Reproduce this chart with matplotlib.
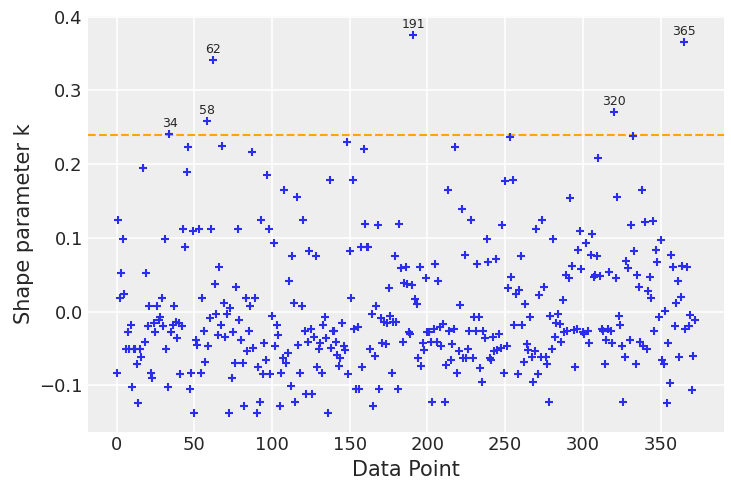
import numpy as np
import matplotlib
matplotlib.use('Agg')
import matplotlib.pyplot as plt

# Pareto shape parameter k per data point
khat_000 = [-0.083, 0.124, 0.018, 0.052, 0.099, 0.024, -0.050, -0.027, -0.050, -0.018,
            -0.102, -0.050, -0.050, -0.071, -0.124, -0.050, -0.061, 0.195, -0.041, 0.052,
            -0.020, 0.008, -0.083, -0.090, -0.016, -0.027, 0.008, -0.011, -0.007, 0.018,
            -0.020, 0.099, -0.051, -0.102, 0.241, -0.027, -0.018, 0.008, -0.014, -0.036,
            -0.016, -0.084, -0.020, 0.112, 0.087, 0.189, 0.223, -0.105, -0.083, 0.110]
khat_050 = [-0.137, -0.038, -0.045, 0.112, -0.083, 0.018, -0.026, -0.068, 0.258, -0.047,
            -0.008, 0.112, 0.341, 0.038, -0.003, -0.032, 0.061, -0.018, 0.224, 0.012,
            -0.035, -0.003, -0.137, 0.005, -0.090, -0.027, -0.070, 0.034, 0.112, -0.011,
            -0.038, -0.070, -0.128, 0.018, -0.053, -0.026, 0.008, 0.217, -0.049, 0.018,
            -0.137, -0.075, -0.122, 0.124, -0.084, -0.042, -0.065, 0.185, 0.112, -0.084]
khat_100 = [-0.006, 0.093, -0.047, -0.018, -0.032, -0.128, -0.083, -0.063, 0.165, -0.069,
            -0.056, 0.041, -0.101, 0.075, 0.012, -0.122, 0.156, -0.045, -0.083, 0.008,
            0.124, -0.026, -0.112, -0.041, 0.082, -0.024, -0.112, -0.034, 0.076, -0.075,
            -0.051, -0.042, -0.083, -0.018, -0.007, -0.036, -0.137, 0.178, -0.049, -0.026,
            -0.026, -0.041, -0.059, -0.074, -0.063, -0.015, -0.047, -0.052, 0.230, -0.084]
khat_150 = [0.082, 0.018, 0.178, -0.024, -0.105, -0.021, -0.105, 0.087, -0.075, 0.220,
            0.119, 0.087, 0.087, -0.051, -0.003, -0.128, -0.060, 0.008, 0.118, -0.105,
            -0.008, -0.042, -0.014, -0.044, -0.015, 0.032, -0.006, -0.083, -0.014, 0.076,
            -0.014, -0.105, 0.119, 0.059, -0.041, 0.039, 0.060, 0.038, -0.028, -0.030,
            0.036, 0.375, 0.017, 0.011, -0.063, 0.060, -0.074, -0.042, -0.052, 0.045]
khat_200 = [-0.028, -0.027, -0.041, -0.122, -0.024, 0.065, -0.041, 0.041, -0.021, -0.047,
            -0.017, -0.122, -0.072, 0.165, -0.026, -0.066, -0.044, -0.023, 0.223, -0.083,
            -0.053, 0.009, 0.139, -0.063, 0.077, -0.063, -0.051, -0.026, 0.124, -0.063,
            -0.007, -0.026, 0.065, -0.007, -0.077, -0.095, -0.026, -0.036, 0.099, 0.068,
            -0.063, -0.066, -0.034, -0.054, 0.071, -0.052, -0.030, -0.049, 0.118, -0.083]
khat_250 = [0.177, -0.047, 0.032, 0.237, 0.047, 0.178, -0.018, 0.024, -0.084, 0.029,
            0.075, -0.018, -0.068, 0.010, -0.044, -0.052, -0.007, -0.061, -0.095, -0.053,
            0.112, -0.084, 0.023, -0.061, 0.124, 0.034, -0.061, -0.071, -0.122, -0.006,
            -0.051, 0.099, -0.035, -0.016, -0.003, -0.017, -0.041, 0.016, -0.028, 0.050,
            -0.026, 0.046, 0.154, 0.062, -0.025, -0.075, -0.024, 0.083, 0.109, 0.058]
khat_300 = [-0.028, -0.030, 0.093, -0.026, -0.043, 0.077, 0.105, 0.047, 0.050, 0.076,
            0.209, 0.048, -0.023, -0.026, -0.071, -0.038, -0.024, 0.054, -0.026, -0.043,
            0.271, 0.045, 0.155, -0.006, -0.018, -0.047, -0.122, -0.061, 0.069, 0.059,
            -0.038, 0.118, 0.238, 0.082, -0.071, 0.050, 0.034, -0.041, 0.165, -0.047,
            0.122, -0.051, 0.028, 0.047, 0.018, 0.123, -0.026, 0.083, 0.067, -0.007]
khat_350 = [0.097, -0.066, -0.071, 0.001, -0.124, -0.043, -0.097, 0.077, 0.061, -0.019,
            0.012, 0.041, -0.061, 0.020, 0.062, 0.365, -0.023, 0.061, -0.020, -0.005,
            -0.106, -0.060, -0.011]

khat = np.array(khat_000 + khat_050 + khat_100 + khat_150 + khat_200
                + khat_250 + khat_300 + khat_350)
idx = np.arange(len(khat))
threshold = 0.2395

plt.rcParams.update({
    'axes.facecolor': '#eeeeee',
    'axes.edgecolor': '#eeeeee',
    'axes.grid': True,
    'grid.color': 'white',
    'grid.linewidth': 1.1,
    'axes.spines.top': False,
    'axes.spines.right': False,
    'axes.spines.left': False,
    'axes.spines.bottom': False,
    'xtick.major.size': 0,
    'ytick.major.size': 0,
    'xtick.labelsize': 13,
    'ytick.labelsize': 13,
    'axes.labelsize': 15,
    'text.color': '#262626',
    'axes.labelcolor': '#262626',
    'xtick.color': '#262626',
    'ytick.color': '#262626',
})

fig = plt.figure(figsize=(7.31, 4.91), dpi=100)
ax = fig.add_axes([0.12, 0.121, 0.870, 0.846])
ax.set_axisbelow(True)

ax.scatter(idx, khat, marker='+', s=34, color='#2a2eec', linewidths=1.5, zorder=3)
ax.axhline(threshold, color='orange', linestyle='--', linewidth=1.5, zorder=2)

for i in idx[khat > threshold]:
    ax.annotate(str(i), (i, khat[i]), xytext=(0, 3), textcoords='offset points',
                ha='center', va='bottom', fontsize=9, color='#262626')

ax.set_xlabel('Data Point')
ax.set_ylabel('Shape parameter k')

fig.savefig('out.png', dpi=100)
